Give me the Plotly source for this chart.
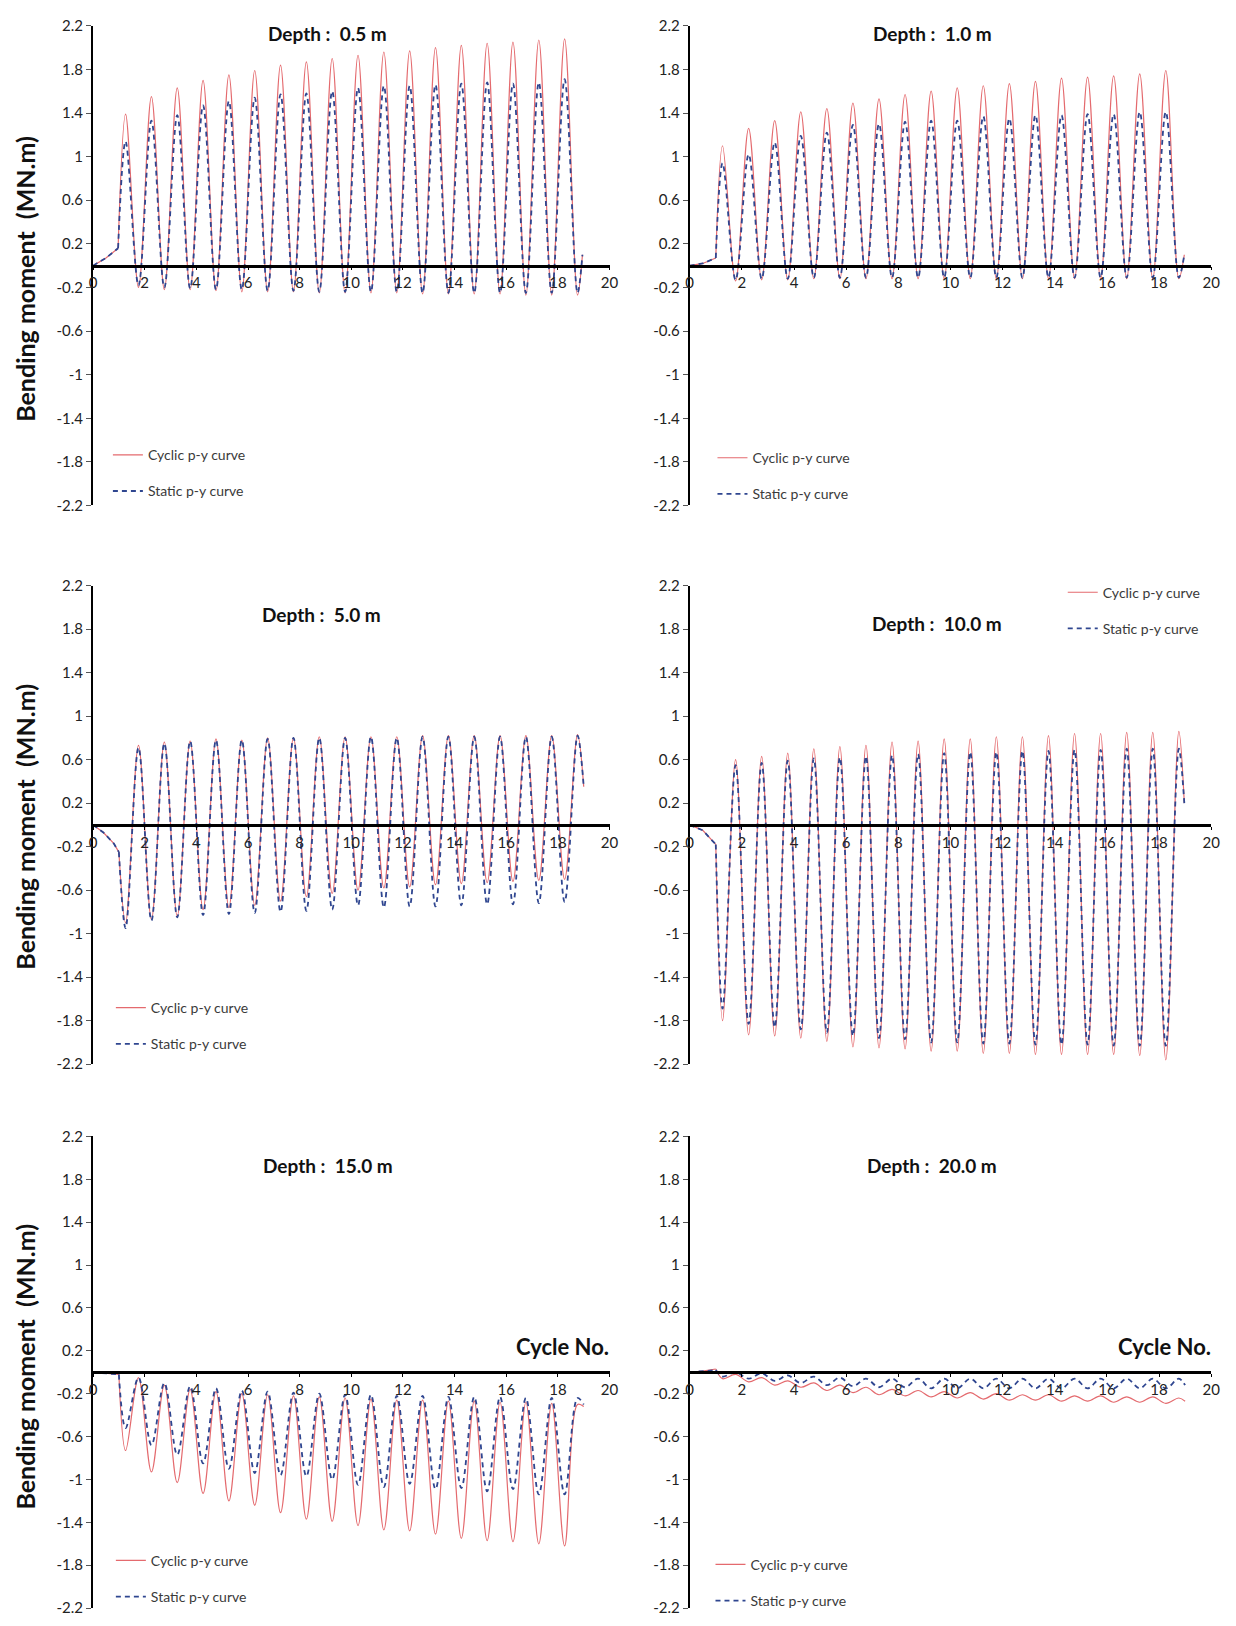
import plotly.graph_objects as go

W, H = 1236, 1626
FONT = "Lato"

# ------------------------------------------------------------------ data
# cycle-number positions of the successive extremes (half-cycle spacing)
CYCLE_EXT_X = [1.26, 1.76, 2.26, 2.76, 3.26, 3.76, 4.26, 4.76, 5.26, 5.76,
               6.26, 6.76, 7.26, 7.76, 8.26, 8.76, 9.26, 9.76, 10.26, 10.76,
               11.26, 11.76, 12.26, 12.76, 13.26, 13.76, 14.26, 14.76, 15.26, 15.76,
               16.26, 16.76, 17.26, 17.76, 18.26, 18.76]
X_TICKS = [0, 2, 4, 6, 8, 10, 12, 14, 16, 18, 20]
Y_TICKS = [-2.2, -1.8, -1.4, -1.0, -0.6, -0.2, 0.2, 0.6, 1.0, 1.4, 1.8, 2.2]
Y_TICK_TEXT = ["-2.2", "-1.8", "-1.4", "-1", "-0.6", "-0.2", "0.2", "0.6", "1", "1.4", "1.8", "2.2"]
DEPTH_LABELS = ["Depth :  0.5 m", "Depth :  1.0 m", "Depth :  5.0 m",
                "Depth :  10.0 m", "Depth :  15.0 m", "Depth :  20.0 m"]
SERIES_NAMES = ["Cyclic p-y curve", "Static p-y curve"]

# Depth 0.5 m  (maxima first)
D05_RAMP_X = [0.0, 0.5, 0.97]
D05_RAMP_CYC = [0.0, 0.07, 0.16]
D05_RAMP_STA = [0.0, 0.07, 0.16]
D05_CYC_MAX = [1.39, 1.55, 1.63, 1.70, 1.75, 1.79, 1.84, 1.87, 1.90, 1.93, 1.96, 1.97, 2.00, 2.02, 2.04, 2.05, 2.07, 2.08]
D05_CYC_MIN = [-0.20, -0.22, -0.22, -0.23, -0.24, -0.24, -0.24, -0.25, -0.25, -0.25, -0.25, -0.26, -0.26, -0.26, -0.26, -0.27, -0.27, -0.27]
D05_STA_MAX = [1.14, 1.33, 1.38, 1.47, 1.51, 1.54, 1.57, 1.58, 1.60, 1.63, 1.65, 1.65, 1.66, 1.67, 1.68, 1.67, 1.68, 1.71]
D05_STA_MIN = [-0.18, -0.20, -0.21, -0.22, -0.22, -0.23, -0.23, -0.24, -0.24, -0.24, -0.24, -0.25, -0.25, -0.25, -0.25, -0.25, -0.25, -0.25]
D05_END = [18.95, 0.10, 0.10]

# Depth 1.0 m  (maxima first)
D10_RAMP_X = [0.0, 0.5, 1.0]
D10_RAMP_CYC = [0.0, 0.02, 0.07]
D10_RAMP_STA = [0.0, 0.02, 0.07]
D10_CYC_MAX = [1.10, 1.26, 1.33, 1.41, 1.44, 1.49, 1.53, 1.57, 1.60, 1.63, 1.65, 1.67, 1.69, 1.72, 1.73, 1.74, 1.76, 1.79]
D10_CYC_MIN = [-0.14, -0.13, -0.13, -0.12, -0.12, -0.12, -0.12, -0.12, -0.12, -0.12, -0.12, -0.12, -0.12, -0.12, -0.12, -0.12, -0.12, -0.12]
D10_STA_MAX = [0.94, 1.02, 1.13, 1.19, 1.22, 1.29, 1.30, 1.32, 1.33, 1.33, 1.37, 1.35, 1.38, 1.38, 1.39, 1.39, 1.41, 1.41]
D10_STA_MIN = [-0.13, -0.12, -0.12, -0.11, -0.11, -0.11, -0.11, -0.11, -0.11, -0.11, -0.11, -0.11, -0.11, -0.11, -0.11, -0.11, -0.11, -0.11]
D10_END = [18.97, 0.10, 0.10]

# Depth 5.0 m  (minima first)
D50_RAMP_X = [0.0, 0.4, 0.8, 1.0]
D50_RAMP_CYC = [0.0, -0.07, -0.17, -0.25]
D50_RAMP_STA = [0.0, -0.07, -0.17, -0.25]
D50_CYC_MIN = [-0.90, -0.87, -0.84, -0.78, -0.76, -0.74, -0.70, -0.66, -0.63, -0.60, -0.58, -0.57, -0.55, -0.54, -0.53, -0.52, -0.51, -0.50]
D50_CYC_MAX = [0.73, 0.76, 0.77, 0.79, 0.78, 0.80, 0.80, 0.81, 0.81, 0.81, 0.81, 0.82, 0.82, 0.82, 0.82, 0.82, 0.82, 0.83]
D50_STA_MIN = [-0.95, -0.88, -0.85, -0.83, -0.82, -0.81, -0.80, -0.79, -0.78, -0.74, -0.76, -0.75, -0.75, -0.74, -0.73, -0.73, -0.72, -0.71]
D50_STA_MAX = [0.71, 0.75, 0.77, 0.78, 0.78, 0.79, 0.80, 0.80, 0.80, 0.81, 0.80, 0.81, 0.81, 0.81, 0.81, 0.81, 0.81, 0.82]
D50_END = [19.0, 0.35, 0.35]

# Depth 10.0 m  (minima first)
D100_RAMP_X = [0.0, 0.5, 1.0]
D100_RAMP_CYC = [0.0, -0.05, -0.18]
D100_RAMP_STA = [0.0, -0.05, -0.18]
D100_CYC_MIN = [-1.80, -1.93, -1.94, -1.96, -1.99, -2.04, -2.05, -2.06, -2.08, -2.08, -2.10, -2.10, -2.11, -2.11, -2.11, -2.11, -2.12, -2.16]
D100_CYC_MAX = [0.60, 0.63, 0.66, 0.70, 0.72, 0.73, 0.76, 0.77, 0.79, 0.79, 0.81, 0.81, 0.82, 0.84, 0.84, 0.85, 0.85, 0.86]
D100_STA_MIN = [-1.69, -1.83, -1.86, -1.88, -1.91, -1.94, -1.96, -1.97, -2.00, -2.00, -2.01, -2.01, -2.02, -2.02, -2.02, -2.03, -2.03, -2.03]
D100_STA_MAX = [0.55, 0.57, 0.59, 0.61, 0.62, 0.63, 0.64, 0.65, 0.66, 0.67, 0.67, 0.68, 0.68, 0.69, 0.69, 0.70, 0.70, 0.70]
D100_END = [18.97, 0.20, 0.20]

# Depth 15.0 m  (minima first)
D150_RAMP_X = [0.0, 0.5, 1.0]
D150_RAMP_CYC = [0.0, -0.01, -0.02]
D150_RAMP_STA = [0.0, -0.01, -0.02]
D150_CYC_MIN = [-0.73, -0.93, -1.03, -1.13, -1.20, -1.24, -1.31, -1.37, -1.39, -1.43, -1.47, -1.48, -1.51, -1.55, -1.57, -1.58, -1.60, -1.62]
D150_CYC_MAX = [-0.05, -0.12, -0.16, -0.18, -0.20, -0.21, -0.22, -0.23, -0.24, -0.25, -0.26, -0.26, -0.27, -0.27, -0.28, -0.28, -0.29, -0.30]
D150_STA_MIN = [-0.52, -0.68, -0.77, -0.85, -0.90, -0.94, -0.96, -0.97, -1.00, -1.05, -1.07, -1.04, -1.09, -1.08, -1.11, -1.09, -1.14, -1.14]
D150_STA_MAX = [-0.05, -0.10, -0.13, -0.15, -0.17, -0.18, -0.19, -0.20, -0.21, -0.21, -0.22, -0.22, -0.23, -0.23, -0.23, -0.24, -0.24, -0.24]
D150_END = [19.0, -0.32, -0.30]

# Depth 20.0 m  (minima first)
D200_RAMP_X = [0.0, 0.5, 1.0]
D200_RAMP_CYC = [0.0, 0.01, 0.03]
D200_RAMP_STA = [0.0, 0.01, 0.02]
D200_CYC_MIN = [-0.06, -0.09, -0.12, -0.14, -0.17, -0.19, -0.21, -0.22, -0.23, -0.24, -0.25, -0.26, -0.26, -0.27, -0.27, -0.28, -0.28, -0.29]
D200_CYC_MAX = [-0.02, -0.05, -0.08, -0.10, -0.12, -0.14, -0.16, -0.17, -0.18, -0.19, -0.20, -0.21, -0.21, -0.22, -0.22, -0.23, -0.23, -0.24]
D200_STA_MIN = [-0.04, -0.06, -0.08, -0.10, -0.12, -0.13, -0.14, -0.14, -0.15, -0.15, -0.15, -0.15, -0.15, -0.15, -0.15, -0.15, -0.15, -0.15]
D200_STA_MAX = [0.00, -0.01, -0.03, -0.04, -0.05, -0.06, -0.06, -0.06, -0.06, -0.06, -0.06, -0.06, -0.06, -0.06, -0.06, -0.06, -0.06, -0.06]
D200_END = [19.0, -0.27, -0.12]

# ------------------------------------------------------------------ layout constants (pixels)
COLS_PX = [(90, 612), (693, 1220)]
ROWS_PX = [(16, 501), (582, 1066), (1139, 1616)]
LEGEND_PX = [(105, 434), (716, 437), (108, 993), (1070, 573), (108, 1552), (714, 1556)]
TITLE_PX = [(327, 24), (938, 24), (321, 611), (943, 620), (327, 1168), (938, 1168)]
YTITLE_PX = [(21, 272), (21, 826), (21, 1372)]
CYCLE_NO_PX = [(613, 1351), (1222, 1351)]

CYC_COLOR = "#E46A6E"
STA_COLOR = "#2F4690"


def interleave(a, b):
    out = []
    for u, v in zip(a, b):
        out += [u, v]
    return out


PANELS = [
    (D05_RAMP_X, D05_RAMP_CYC, D05_RAMP_STA, interleave(D05_CYC_MAX, D05_CYC_MIN), interleave(D05_STA_MAX, D05_STA_MIN), D05_END),
    (D10_RAMP_X, D10_RAMP_CYC, D10_RAMP_STA, interleave(D10_CYC_MAX, D10_CYC_MIN), interleave(D10_STA_MAX, D10_STA_MIN), D10_END),
    (D50_RAMP_X, D50_RAMP_CYC, D50_RAMP_STA, interleave(D50_CYC_MIN, D50_CYC_MAX), interleave(D50_STA_MIN, D50_STA_MAX), D50_END),
    (D100_RAMP_X, D100_RAMP_CYC, D100_RAMP_STA, interleave(D100_CYC_MIN, D100_CYC_MAX), interleave(D100_STA_MIN, D100_STA_MAX), D100_END),
    (D150_RAMP_X, D150_RAMP_CYC, D150_RAMP_STA, interleave(D150_CYC_MIN, D150_CYC_MAX), interleave(D150_STA_MIN, D150_STA_MAX), D150_END),
    (D200_RAMP_X, D200_RAMP_CYC, D200_RAMP_STA, interleave(D200_CYC_MIN, D200_CYC_MAX), interleave(D200_STA_MIN, D200_STA_MAX), D200_END),
]

fig = go.Figure()
layout = dict(width=W, height=H, autosize=False, margin=dict(l=0, r=0, t=0, b=0),
              paper_bgcolor="white", plot_bgcolor="white",
              font=dict(family=FONT, size=15, color="#222222"))
annotations = []

for i, (rx, rcyc, rsta, osc_cyc, osc_sta, end) in enumerate(PANELS):
    n = i + 1
    sfx = "" if n == 1 else str(n)
    col, row = i % 2, i // 2
    x0, x1 = COLS_PX[col]
    ytop, ybot = ROWS_PX[row]
    xd = [x0 / W, x1 / W]
    yd = [1 - ybot / H, 1 - ytop / H]
    xa, ya = "x" + sfx, "y" + sfx
    leg = "legend" + sfx

    osc_x = [rx[-1]] + CYCLE_EXT_X + [end[0]]
    series = [
        (SERIES_NAMES[0], rcyc, [rcyc[-1]] + osc_cyc + [end[1]], dict(color=CYC_COLOR, width=1.2)),
        (SERIES_NAMES[1], rsta, [rsta[-1]] + osc_sta + [end[2]], dict(color=STA_COLOR, width=1.8, dash="5px,4px")),
    ]
    for name, ry, oy, line in series:
        grp = f"{name}-{n}"
        fig.add_trace(go.Scatter(x=rx, y=ry, mode="lines", line=line, xaxis=xa, yaxis=ya,
                                 legend=leg, legendgroup=grp, showlegend=False, hoverinfo="skip"))
        fig.add_trace(go.Scatter(x=osc_x, y=oy, mode="lines", name=name,
                                 line=dict(shape="spline", smoothing=1.0, **line),
                                 xaxis=xa, yaxis=ya, legend=leg, legendgroup=grp, showlegend=True))

    layout["xaxis" + sfx] = dict(domain=xd, range=[0, 20], anchor="free", position=(yd[0] + yd[1]) / 2,
                                 showline=True, linecolor="black", linewidth=2.5,
                                 ticks="outside", ticklen=3, tickcolor="black", tickwidth=1,
                                 tickvals=X_TICKS, showgrid=False, zeroline=False,
                                 tickfont=dict(size=15, color="#222222"))
    layout["yaxis" + sfx] = dict(domain=yd, range=[-2.2, 2.2], anchor=xa,
                                 showline=True, linecolor="black", linewidth=2,
                                 ticks="outside", ticklen=5, tickcolor="#555555", tickwidth=1,
                                 tickvals=Y_TICKS, ticktext=Y_TICK_TEXT, showgrid=False, zeroline=False,
                                 tickfont=dict(size=15, color="#222222"))
    lx, ly = LEGEND_PX[i]
    layout[leg] = dict(x=lx / W, y=1 - ly / H, xanchor="left", yanchor="top",
                       bgcolor="rgba(0,0,0,0)", font=dict(size=14, color="#3a3a3a"),
                       itemwidth=30, tracegroupgap=15, traceorder="grouped")
    tx, ty = TITLE_PX[i]
    annotations.append(dict(x=tx / W, y=1 - ty / H, xref="paper", yref="paper",
                            text="<b>" + DEPTH_LABELS[i] + "</b>", showarrow=False,
                            xanchor="center", yanchor="middle", font=dict(size=19, color="#111111")))

for px, py in YTITLE_PX:
    annotations.append(dict(x=px / W, y=1 - py / H, xref="paper", yref="paper",
                            text="<b>Bending moment  (MN.m)</b>", textangle=-90, showarrow=False,
                            xanchor="center", yanchor="middle", font=dict(size=25, color="#111111")))
for px, py in CYCLE_NO_PX:
    annotations.append(dict(x=px / W, y=1 - py / H, xref="paper", yref="paper",
                            text="<b>Cycle No.</b>", showarrow=False,
                            xanchor="right", yanchor="middle", font=dict(size=22, color="#111111")))

layout["annotations"] = annotations
fig.update_layout(**layout)
fig.write_html("out.html")
